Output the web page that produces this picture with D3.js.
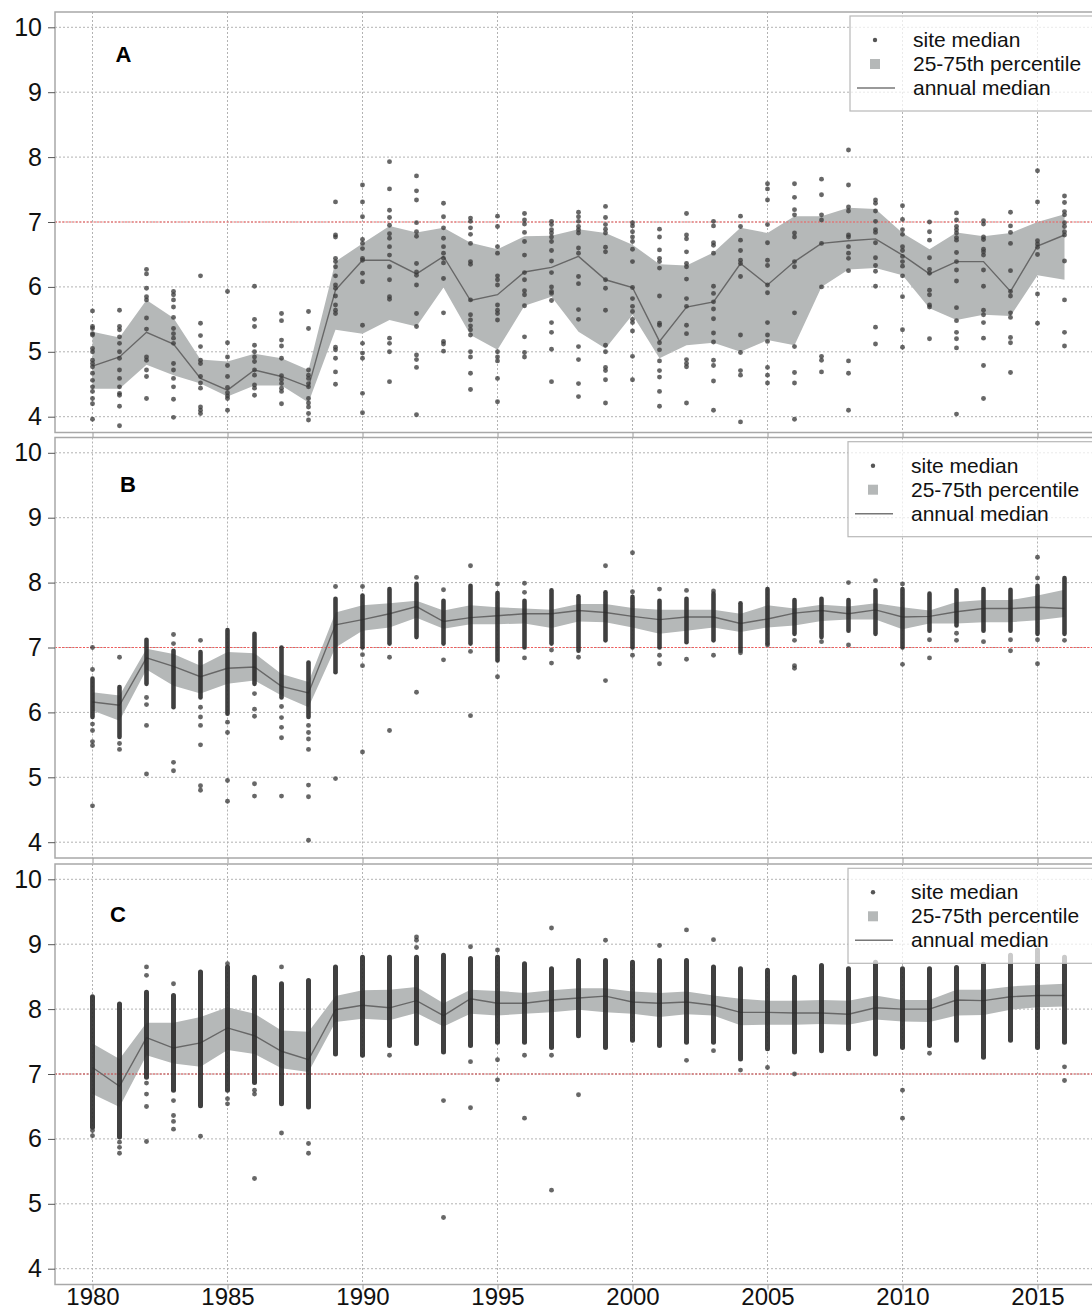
<!DOCTYPE html>
<html>
<head>
<meta charset="utf-8">
<script src="https://cdn.jsdelivr.net/npm/d3@7"></script>
<style>
  body { margin: 0; background: #fff; }
  svg { display: block; font-family: "Liberation Sans", Arial, sans-serif; }
</style>
</head>
<body>
<div id="chart"></div>
<script>
// years 1980..2016, one entry per year in every array below
const years = d3.range(1980, 2017);
const yTicks = [4, 5, 6, 7, 8, 9, 10];
const xTicks = [1980, 1985, 1990, 1995, 2000, 2005, 2010, 2015];
const legendLabels = ["site median", "25-75th percentile", "annual median"];
const panelLetters = ["A", "B", "C"];

// panel A
const aMed = [4.78,4.92,5.30,5.12,4.59,4.41,4.72,4.62,4.46,5.95,6.41,6.41,6.20,6.47,5.79,5.88,6.23,6.30,6.47,6.11,5.99,5.16,5.69,5.77,6.36,6.03,6.39,6.67,6.71,6.74,6.49,6.20,6.39,6.39,5.93,6.63,6.80];
const aQ75 = [5.31,5.22,5.80,5.52,4.88,4.85,4.97,4.90,4.72,6.39,6.67,6.94,6.84,6.91,6.68,6.58,6.78,6.79,6.89,6.83,6.65,6.35,6.33,6.53,6.91,6.83,7.09,7.09,7.22,7.20,6.83,6.58,6.84,6.78,6.83,7.00,7.12];
const aQ25 = [4.43,4.43,4.80,4.64,4.51,4.31,4.48,4.48,4.22,5.34,5.28,5.49,5.39,5.99,5.26,5.03,5.71,5.85,5.31,5.05,5.57,4.90,5.10,5.14,5.00,5.18,5.10,6.00,6.27,6.29,6.18,5.67,5.49,5.57,5.55,6.18,6.11];
const aPoints = [
  [5.63,5.39,5.36,5.28,5.26,5.05,5.00,4.87,4.82,4.77,4.67,4.56,4.46,4.39,4.28,4.20,3.96],
  [5.64,5.39,5.34,5.23,5.13,5.00,4.90,4.72,4.59,4.46,4.36,4.33,4.16,3.86],
  [6.27,6.20,5.98,5.85,5.80,5.52,5.35,4.92,4.87,4.72,4.62,4.28],
  [5.93,5.88,5.80,5.69,5.53,5.36,5.28,5.21,5.13,4.82,4.72,4.59,4.46,4.27,3.99],
  [6.17,5.44,5.25,5.08,4.87,4.82,4.62,4.52,4.44,4.15,4.10,4.05],
  [5.93,5.14,4.92,4.79,4.62,4.45,4.37,4.32,4.28,4.10],
  [6.01,5.50,5.39,5.10,5.00,4.92,4.85,4.72,4.64,4.49,4.44,4.33],
  [5.59,5.48,5.18,5.09,4.90,4.63,4.57,4.51,4.44,4.39,4.20],
  [5.62,5.36,4.72,4.64,4.59,4.51,4.46,4.28,4.21,4.15,4.05,3.95],
  [7.31,6.80,6.77,6.44,6.39,6.31,6.17,6.03,5.98,5.86,5.72,5.64,5.59,5.07,5.03,4.90,4.69,4.50],
  [7.57,7.31,7.08,6.73,6.67,6.59,6.44,6.41,6.21,6.08,5.41,5.13,4.98,4.90,4.36,4.06],
  [7.93,7.51,7.18,7.07,6.95,6.82,6.75,6.62,6.49,6.31,6.11,5.85,5.81,5.21,5.13,5.00,4.54],
  [7.71,7.48,7.34,6.99,6.85,6.78,6.36,6.23,6.18,6.03,5.59,5.39,4.95,4.88,4.76,4.03],
  [7.29,7.08,6.91,6.75,6.62,6.52,6.44,6.37,6.13,5.60,5.16,5.12,5.01],
  [7.06,7.01,6.91,6.81,6.67,6.39,6.35,5.80,5.57,5.49,5.40,5.34,5.26,5.00,4.92,4.67,4.42],
  [7.09,6.93,6.62,6.52,6.17,6.11,6.03,5.72,5.64,5.59,5.49,5.00,4.92,4.86,4.59,4.23],
  [7.13,7.03,6.97,6.84,6.70,6.49,6.22,6.11,5.94,5.88,5.71,5.23,4.99,4.92],
  [7.01,6.96,6.88,6.83,6.77,6.70,6.56,6.40,6.22,6.00,5.93,5.90,5.79,5.45,5.30,5.04,4.54],
  [7.15,7.08,7.01,6.93,6.88,6.83,6.60,6.52,6.16,6.05,5.65,5.50,5.08,4.88,4.51,4.31],
  [7.24,7.07,6.96,6.89,6.83,6.61,6.54,6.11,5.98,5.64,5.10,5.00,4.76,4.71,4.57,4.21],
  [6.99,6.94,6.85,6.77,6.70,6.58,6.39,5.99,5.82,5.70,5.62,5.50,5.45,5.32,4.93,4.57],
  [6.89,6.77,6.57,6.44,6.39,6.29,5.86,5.44,5.41,5.14,5.03,4.86,4.71,4.61,4.39,4.16],
  [7.13,6.80,6.74,6.54,6.36,6.31,6.12,5.82,5.70,5.41,5.28,4.88,4.82,4.77,4.21],
  [7.01,6.94,6.68,6.64,6.52,6.01,5.90,5.77,5.66,5.51,5.29,5.15,4.87,4.79,4.55,4.10],
  [7.09,6.93,6.72,6.56,6.41,6.36,6.16,5.26,4.99,4.71,4.64,3.92],
  [7.59,7.51,7.34,6.96,6.68,6.41,6.33,6.03,5.91,5.45,5.26,5.16,4.76,4.64,4.52],
  [7.59,7.38,7.19,7.11,6.83,6.77,6.39,6.31,5.60,5.08,4.68,4.52,3.96],
  [7.66,7.42,7.11,7.03,6.67,6.00,4.93,4.87,4.69],
  [8.11,7.57,7.23,7.17,6.80,6.77,6.62,6.52,6.44,6.25,4.86,4.67,4.10],
  [7.34,7.29,7.17,7.01,6.88,6.84,6.68,6.45,6.33,6.24,6.01,5.38,5.12],
  [7.25,7.04,6.88,6.81,6.62,6.56,6.47,6.39,6.32,6.17,5.85,5.34,5.07],
  [7.00,6.85,6.72,6.45,6.27,6.21,5.95,5.88,5.72,5.69,5.20],
  [7.14,7.03,6.93,6.88,6.83,6.76,6.72,6.53,6.39,6.26,6.09,5.68,5.48,5.30,5.20,5.06,4.04],
  [7.02,6.97,6.77,6.73,6.58,6.54,6.49,6.26,6.01,5.64,5.57,5.45,5.21,4.79,4.28],
  [7.15,6.94,6.84,6.67,6.25,5.93,5.86,5.60,5.53,5.22,5.14,4.68],
  [7.79,7.31,6.71,6.66,6.61,6.50,5.89,5.44],
  [7.40,7.30,7.16,7.11,6.99,6.93,6.85,6.80,6.40,5.80,5.30,5.09]
];
const aDense = [];

// panel B
const bMed = [6.16,6.11,6.84,6.71,6.55,6.68,6.70,6.40,6.30,7.35,7.43,7.52,7.63,7.40,7.46,7.49,7.52,7.52,7.57,7.54,7.48,7.43,7.47,7.47,7.37,7.44,7.53,7.57,7.52,7.58,7.47,7.48,7.55,7.60,7.60,7.62,7.60];
const bQ75 = [6.31,6.26,6.98,6.90,6.72,6.93,6.91,6.59,6.47,7.54,7.65,7.68,7.72,7.57,7.65,7.62,7.60,7.58,7.67,7.67,7.61,7.58,7.58,7.58,7.52,7.65,7.60,7.66,7.63,7.68,7.62,7.57,7.70,7.73,7.73,7.80,7.89];
const bQ25 = [6.03,5.87,6.66,6.41,6.29,6.44,6.49,6.26,6.08,7.00,7.26,7.31,7.46,7.29,7.36,7.36,7.37,7.30,7.40,7.39,7.31,7.21,7.26,7.31,7.24,7.31,7.34,7.41,7.43,7.43,7.28,7.37,7.37,7.39,7.39,7.42,7.47];
// low / high end of the solid run of overlapping site medians
const bDense = [[5.93,6.52],[5.62,6.39],[6.44,7.12],[6.08,6.95],[6.23,6.93],[5.98,7.27],[6.44,7.21],[6.23,7.00],[5.93,6.77],[6.62,7.75],[7.00,7.80],[7.06,7.90],[7.16,7.98],[7.06,7.72],[7.06,7.95],[6.80,7.84],[7.00,7.72],[7.06,7.88],[6.95,7.79],[7.11,7.85],[7.00,7.78],[7.00,7.72],[7.08,7.75],[7.11,7.83],[6.95,7.68],[7.06,7.90],[7.21,7.73],[7.16,7.75],[7.26,7.73],[7.21,7.88],[7.00,7.90],[7.26,7.83],[7.34,7.88],[7.26,7.90],[7.26,7.89],[7.21,7.95],[7.21,8.07]];
const bPoints = [
  [7.00,6.66,5.82,5.72,5.55,5.49,4.56],[6.85,5.52,5.43],[6.23,6.12,5.80,5.05],[7.20,7.06,5.23,5.10],
  [7.11,6.08,5.93,5.80,5.50,4.87,4.80],[5.85,5.69,4.95,4.63],[6.29,6.05,5.94,4.90,4.71],[6.09,5.92,5.77,5.61,4.71],
  [5.80,5.69,5.59,5.43,4.88,4.70,4.03],[7.94,4.98],[7.94,6.89,6.72,5.39],[6.85,5.72],[8.08,6.31],[7.89,6.81],
  [8.26,6.94,5.95],[7.98,6.55],[7.99,7.85,6.84],[6.96,6.76],[6.85],[8.26,6.49],[8.46,7.86,6.88],[7.90,6.88,6.75],
  [7.88,6.82],[7.87,6.88],[6.92],[7.04],[7.11,6.72,6.68],[7.09],[8.00,7.04],[8.03],[7.98,6.74],[7.12,6.84],
  [7.22,7.11],[7.09],[7.12,6.95],[8.39,8.07,7.12,6.75],[7.11]
];

// panel C
const cMed = [7.10,6.81,7.56,7.40,7.48,7.71,7.59,7.35,7.22,7.99,8.06,8.02,8.13,7.90,8.16,8.09,8.09,8.14,8.17,8.20,8.11,8.09,8.11,8.06,7.95,7.95,7.94,7.94,7.92,8.02,8.00,8.00,8.14,8.13,8.19,8.21,8.21];
const cQ75 = [7.47,7.23,7.79,7.79,7.88,8.03,7.93,7.67,7.65,8.20,8.29,8.30,8.34,8.09,8.30,8.28,8.25,8.29,8.32,8.32,8.27,8.25,8.27,8.21,8.16,8.13,8.13,8.14,8.13,8.21,8.14,8.14,8.30,8.30,8.35,8.37,8.39];
const cQ25 = [6.69,6.49,7.29,7.16,7.11,7.37,7.31,7.09,7.03,7.80,7.85,7.83,7.94,7.73,7.93,7.90,7.93,7.95,7.99,7.95,7.93,7.88,7.92,7.90,7.75,7.76,7.76,7.77,7.76,7.84,7.81,7.80,7.90,7.91,7.99,8.03,8.04];
const cDense = [[6.18,8.19],[6.03,8.08],[6.95,8.26],[6.75,8.21],[6.51,8.57],[6.75,8.65],[6.87,8.49],[6.54,8.39],[6.49,8.44],[7.31,8.65],[7.29,8.80],[7.44,8.80],[7.47,8.80],[7.34,8.83],[7.44,8.78],[7.49,8.80],[7.49,8.70],[7.41,8.62],[7.59,8.75],[7.41,8.75],[7.52,8.72],[7.44,8.75],[7.49,8.75],[7.49,8.65],[7.23,8.62],[7.39,8.60],[7.34,8.49],[7.36,8.67],[7.39,8.62],[7.31,8.72],[7.41,8.62],[7.44,8.62],[7.52,8.64],[7.26,8.69],[7.52,8.83],[7.41,8.91],[7.49,8.80]];
const cPoints = [
  [6.13,6.05],[5.95,5.87,5.78],[8.65,8.52,6.86,6.69,6.50,5.96],[8.39,6.59,6.36,6.27,6.15],[6.04],[8.70,6.62,6.54],
  [6.75,6.69,5.39],[8.65,6.09],[5.93,5.78],[],[],[7.29],[9.11,9.06,8.95],[6.59,4.79],[8.96,7.19,6.48],[8.91,7.22,6.91],
  [7.29,6.32],[9.25,7.29,5.21],[6.68],[9.06],[],[8.98],[9.22,7.21],[9.07,7.36],[7.06],[7.10],[7.00],[],[],[],
  [6.75,6.32],[7.32],[],[],[],[],[7.11,6.90]
];

const panels = [
  { letter: panelLetters[0], top: 12, med: aMed, q25: aQ25, q75: aQ75, dense: aDense, pts: aPoints, ref: "#f25a5a", lx: 123.5, ly: 62, legX: 850, legY: 16, runW: 4.6 },
  { letter: panelLetters[1], top: 437.5, med: bMed, q25: bQ25, q75: bQ75, dense: bDense, pts: bPoints, ref: "#f25a5a", lx: 128, ly: 492, legX: 848, legY: 441.7, runW: 4.6 },
  { letter: panelLetters[2], top: 864, med: cMed, q25: cQ25, q75: cQ75, dense: cDense, pts: cPoints, ref: "#c8383a", lx: 118, ly: 922, legX: 848, legY: 868.3, runW: 5 }
];

const W = 1092, H = 1308;
const left = 55, right = 1100, panelH = 420.5;
const bandFill = "#b5b8b8", dotFill = "#3c3c3c";

const svg = d3.select("#chart").append("svg")
  .attr("width", W)
  .attr("height", H);

const x = d3.scaleLinear()
  .domain([1980, 2015])
  .range([92.5, 1037.5]);

panels.forEach(function(p, pi) {
  const top = p.top, bottom = p.top + panelH;
  const y = d3.scaleLinear()
    .domain([4, 10])
    .range([top + 404.7, top + 15.3]);

  const g = svg.append("g");

  // dotted grid
  g.selectAll(".hgrid").data(yTicks).enter().append("line")
    .attr("x1", left).attr("x2", right)
    .attr("y1", d => y(d)).attr("y2", d => y(d))
    .attr("stroke", "#b3b3b3").attr("stroke-dasharray", "2,2");
  g.selectAll(".vgrid").data(xTicks).enter().append("line")
    .attr("x1", d => x(d)).attr("x2", d => x(d))
    .attr("y1", top).attr("y2", bottom)
    .attr("stroke", "#b3b3b3").attr("stroke-dasharray", "2,2");

  // 25-75th percentile band
  const rows = years.map((yr, i) => ({ yr: yr, med: p.med[i], lo: p.q25[i], hi: p.q75[i] }));
  const area = d3.area()
    .x(d => x(d.yr))
    .y0(d => y(d.lo))
    .y1(d => y(d.hi));
  g.append("path").datum(rows)
    .attr("d", area)
    .attr("fill", bandFill);

  // pH 7 reference
  g.append("line")
    .attr("x1", left).attr("x2", right)
    .attr("y1", y(7)).attr("y2", y(7))
    .attr("stroke", p.ref).attr("stroke-width", 1.1).attr("stroke-dasharray", "2,1.5");

  // annual median
  const line = d3.line().x(d => x(d.yr)).y(d => y(d.med));
  g.append("path").datum(rows)
    .attr("d", line)
    .attr("fill", "none")
    .attr("stroke", "#676767")
    .attr("stroke-width", 1.4);

  // site medians: solid runs where the dots pile up, then the single dots
  const runs = p.dense.map((d, i) => ({ yr: years[i], lo: d[0], hi: d[1] }));
  g.selectAll(".run").data(runs).enter().append("line")
    .attr("x1", d => x(d.yr)).attr("x2", d => x(d.yr))
    .attr("y1", d => y(d.lo)).attr("y2", d => y(d.hi))
    .attr("stroke", "#2b2b2b").attr("stroke-opacity", 0.9)
    .attr("stroke-width", p.runW)
    .attr("stroke-linecap", "round");

  const dots = [];
  p.pts.forEach((arr, i) => arr.forEach(v => dots.push({ yr: years[i], v: v })));
  g.selectAll(".dot").data(dots).enter().append("circle")
    .attr("cx", d => x(d.yr))
    .attr("cy", d => y(d.v))
    .attr("r", 2.45)
    .attr("fill", dotFill)
    .attr("fill-opacity", 0.78);

  // frame
  g.append("rect")
    .attr("x", left).attr("y", top)
    .attr("width", right - left).attr("height", panelH)
    .attr("fill", "none")
    .attr("stroke", "#a8a8a8").attr("stroke-width", 1.5);

  // y axis
  const yAxis = g.append("g")
    .attr("transform", "translate(" + left + ",0)")
    .call(d3.axisLeft(y).tickValues(yTicks).tickSize(7).tickPadding(6).tickFormat(d3.format("d")));
  yAxis.select(".domain").remove();
  yAxis.selectAll("line").attr("stroke", "#555");
  yAxis.selectAll("text")
    .attr("fill", "#111")
    .style("font-size", "25px");

  // x axis, labels only under the last panel
  const xAxis = g.append("g")
    .attr("transform", "translate(0," + bottom + ")")
    .call(d3.axisBottom(x).tickValues(xTicks).tickSize(5).tickPadding(1.5).tickFormat(d3.format("d")));
  xAxis.select(".domain").remove();
  xAxis.selectAll("line").attr("stroke", "#9a9a9a");
  xAxis.selectAll("text")
    .attr("y", null)
    .attr("dy", null)
    .attr("y", 20)
    .attr("fill", "#111")
    .style("font-size", "24px")
    .style("display", pi === 2 ? null : "none");

  // panel letter
  g.append("text")
    .attr("x", p.lx).attr("y", p.ly)
    .attr("text-anchor", "middle")
    .style("font-size", "22px")
    .style("font-weight", "bold")
    .attr("fill", "#000")
    .text(p.letter);

  // legend
  const lg = g.append("g").attr("transform", "translate(" + p.legX + "," + p.legY + ")");
  lg.append("rect")
    .attr("width", right - p.legX).attr("height", 95)
    .attr("fill", "#fff").attr("fill-opacity", 0.72)
    .attr("stroke", "#b8b8b8").attr("stroke-width", 1.2);
  lg.append("circle").attr("cx", 25).attr("cy", 24).attr("r", 2.2).attr("fill", "#555");
  lg.append("rect").attr("x", 20).attr("y", 43).attr("width", 10).attr("height", 10).attr("fill", bandFill);
  lg.append("line").attr("x1", 7).attr("x2", 45).attr("y1", 72).attr("y2", 72)
    .attr("stroke", "#777").attr("stroke-width", 1.4);
  lg.selectAll(".lab").data(legendLabels).enter().append("text")
    .attr("x", 63)
    .attr("y", (d, i) => 31 + i * 24)
    .style("font-size", "21px")
    .attr("fill", "#111")
    .text(d => d);
});
</script>
</body>
</html>
